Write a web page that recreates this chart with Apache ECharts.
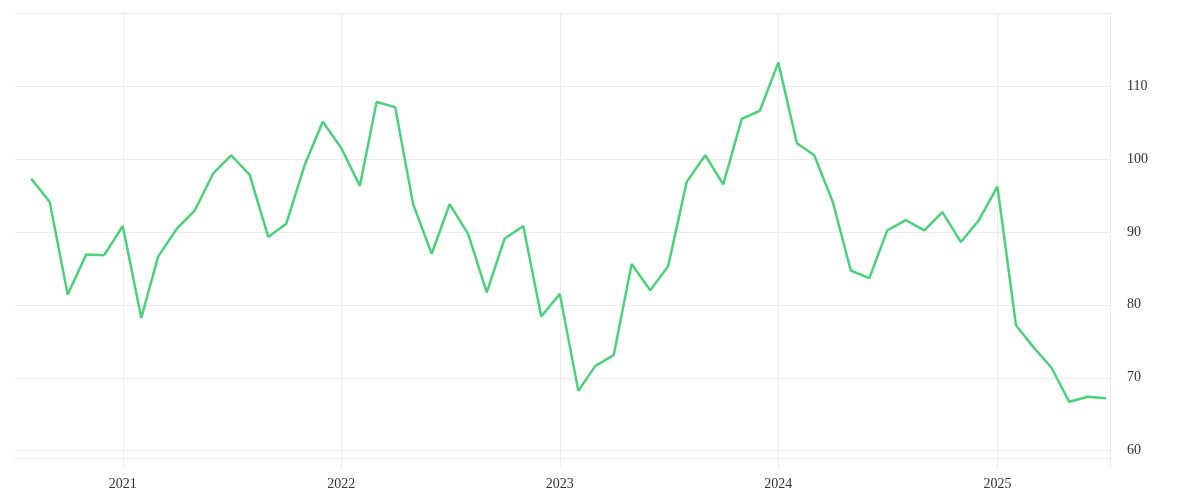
<!DOCTYPE html>
<html>
<head>
<meta charset="utf-8">
<script src="https://cdn.jsdelivr.net/npm/echarts@6/dist/echarts.min.js"></script>
<style>
  html, body { margin: 0; padding: 0; background: #fff; }
  #chart { width: 1200px; height: 500px; }
</style>
</head>
<body>
<div id="chart"></div>
<script>
// Monthly observations, Aug 2020 – Jul 2025
const months = [
  '2020-08-01','2020-09-01','2020-10-01','2020-11-01','2020-12-01',
  '2021-01-01','2021-02-01','2021-03-01','2021-04-01','2021-05-01','2021-06-01',
  '2021-07-01','2021-08-01','2021-09-01','2021-10-01','2021-11-01','2021-12-01',
  '2022-01-01','2022-02-01','2022-03-01','2022-04-01','2022-05-01','2022-06-01',
  '2022-07-01','2022-08-01','2022-09-01','2022-10-01','2022-11-01','2022-12-01',
  '2023-01-01','2023-02-01','2023-03-01','2023-04-01','2023-05-01','2023-06-01',
  '2023-07-01','2023-08-01','2023-09-01','2023-10-01','2023-11-01','2023-12-01',
  '2024-01-01','2024-02-01','2024-03-01','2024-04-01','2024-05-01','2024-06-01',
  '2024-07-01','2024-08-01','2024-09-01','2024-10-01','2024-11-01','2024-12-01',
  '2025-01-01','2025-02-01','2025-03-01','2025-04-01','2025-05-01','2025-06-01',
  '2025-07-01'
];
const values = [
  97.3, 94.1, 81.4, 86.9, 86.8,
  90.8, 78.2, 86.6, 90.4, 92.9, 98.0,
  100.5, 97.8, 89.3, 91.1, 99.2, 105.1,
  101.5, 96.3, 107.8, 107.1, 93.8, 87.0,
  93.8, 89.7, 81.7, 89.1, 90.8, 78.4,
  81.5, 68.2, 71.6, 73.1, 85.6, 82.0,
  85.3, 96.85, 100.5, 96.5, 105.5, 106.6,
  113.2, 102.15, 100.5, 94.1, 84.7, 83.65,
  90.2, 91.6, 90.2, 92.7, 88.6, 91.6,
  96.2, 77.2, 74.3, 71.4, 66.7, 67.4,
  67.2
];
const yearTicks = ['2021-01-01', '2022-01-01', '2023-01-01', '2024-01-01', '2025-01-01'];
const xRange = ['2020-07-05', '2025-07-08'];
const yRange = [59, 120];

const gridColor = '#ebebeb';
const labelFont = 'Liberation Serif';

const chart = echarts.init(document.getElementById('chart'), null, { renderer: 'canvas' });
chart.setOption({
  animation: false,
  grid: { left: 15, right: 90, top: 13, bottom: 42, containLabel: false },
  xAxis: {
    type: 'time',
    min: xRange[0],
    max: xRange[1],
    minInterval: 365 * 24 * 3600 * 1000,
    splitNumber: 5,
    axisLine: { show: true, lineStyle: { color: gridColor, width: 1 } },
    axisTick: {
      show: true, length: 10, lineStyle: { color: gridColor },
      customValues: yearTicks.concat([xRange[1]]).map(d => +new Date(d + 'T00:00:00'))
    },
    splitLine: { show: true, showMinLine: false, lineStyle: { color: gridColor, width: 1 } },
    axisLabel: {
      color: '#333',
      fontFamily: labelFont,
      fontSize: 14,
      margin: 19,
      showMinLabel: false,
      showMaxLabel: false,
      formatter: '{yyyy}'
    }
  },
  yAxis: {
    type: 'value',
    position: 'right',
    min: yRange[0],
    max: yRange[1],
    splitNumber: 6,
    axisLine: { show: true, lineStyle: { color: gridColor, width: 1 } },
    axisTick: { show: false },
    splitLine: { show: true, lineStyle: { color: gridColor, width: 1 } },
    axisLabel: {
      color: '#333',
      fontFamily: labelFont,
      fontSize: 14,
      margin: 17,
      padding: [5, 0, 0, 0],
      showMinLabel: false,
      showMaxLabel: false
    }
  },
  series: [{
    type: 'line',
    data: months.map((m, i) => [m, values[i]]),
    showSymbol: false,
    symbol: 'none',
    lineStyle: { color: '#4ad27a', width: 2.5 },
    itemStyle: { color: '#4ad27a' }
  }]
});
</script>
</body>
</html>
